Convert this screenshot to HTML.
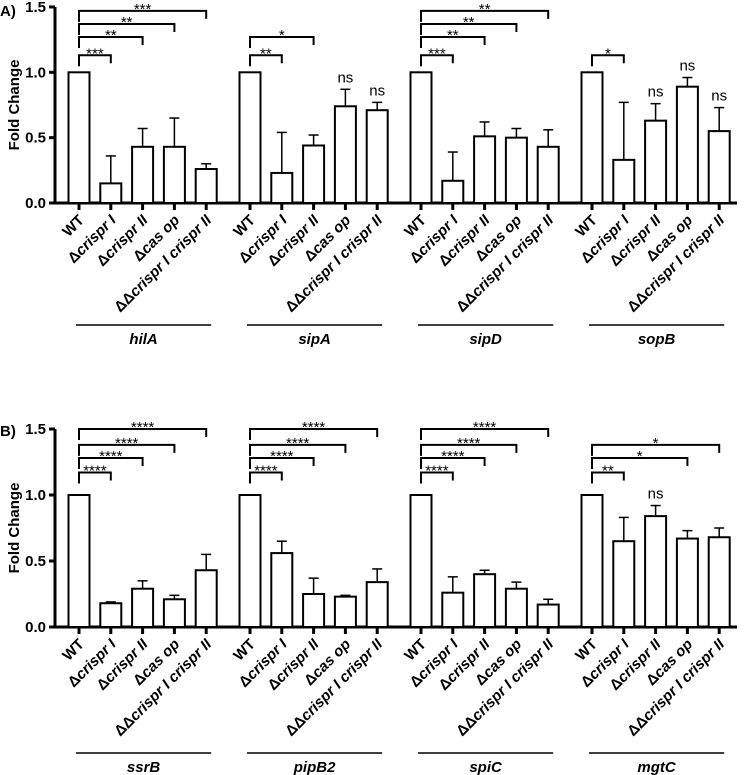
<!DOCTYPE html>
<html><head><meta charset="utf-8"><style>
body{margin:0;background:#fff}
svg{display:block;font-family:"Liberation Sans",Arial,sans-serif}
</style></head><body>
<svg id="chart" width="744" height="775" viewBox="0 0 744 775" xmlns="http://www.w3.org/2000/svg"></svg>
<script>
const strains = ["WT","Δcrispr I","Δcrispr II","Δcas op","ΔΔcrispr I crispr II"];
const genesA = ["hilA","sipA","sipD","sopB"];
const genesB = ["ssrB","pipB2","spiC","mgtC"];
const valuesA = [[1,0.15,0.43,0.43,0.26],[1,0.23,0.44,0.74,0.71],[1,0.17,0.51,0.50,0.43],[1,0.33,0.63,0.89,0.55]];
const errTopA = [[1,0.36,0.57,0.65,0.30],[1,0.54,0.52,0.87,0.77],[1,0.39,0.62,0.57,0.56],[1,0.77,0.76,0.96,0.73]];
const valuesB = [[1,0.18,0.29,0.21,0.43],[1,0.56,0.25,0.23,0.34],[1,0.26,0.40,0.29,0.17],[1,0.65,0.84,0.67,0.68]];
const errTopB = [[1,0.19,0.35,0.24,0.55],[1,0.65,0.37,0.24,0.44],[1,0.38,0.43,0.34,0.21],[1,0.83,0.92,0.73,0.75]];
const sigA = [["***","**","**","***"],["**","*","ns","ns"],["***","**","**","**"],["*","ns","ns","ns"]];
const sigB = [["****","****","****","****"],["****","****","****","****"],["****","****","****","****"],["**","ns","*","*"]];
const yTicks = [0,0.5,1.0,1.5];
const yTickLabels = ["0.0","0.5","1.0","1.5"];

const NS="http://www.w3.org/2000/svg";
const svg=document.getElementById('chart');
function mk(tag,attrs,parent){const e=document.createElementNS(NS,tag);for(const k in attrs)e.setAttribute(k,attrs[k]);(parent||svg).appendChild(e);return e;}

function panel(p){
  const g=mk('g',{});
  
  
  const y=v=>p.y0-v*p.unit;
  const x=(gi,bi)=>79+gi*171+bi*31.8;
  const axX=55;
  const L=mk('text',{x:0,y:p.letterY,'font-size':15,'font-weight':'bold'},g);L.textContent=p.letter;
  
  
  const t=mk('text',{x:0,y:0,'font-size':15,'font-weight':'bold','text-anchor':'middle',transform:`translate(19,${y(0.75)}) rotate(-90)`},g);t.textContent="Fold Change";
  
  
  mk('line',{x1:axX,y1:y(1.5),x2:axX,y2:p.y0+1.5,stroke:'#000','stroke-width':3},g);
  mk('line',{x1:axX-1.5,y1:p.y0,x2:737,y2:p.y0,stroke:'#000','stroke-width':3},g);
  yTicks.forEach((v,i)=>{
    mk('line',{x1:axX-6,y1:y(v),x2:axX,y2:y(v),stroke:'#000','stroke-width':3},g);
    const tl=mk('text',{x:axX-9,y:y(v)+5,'font-size':15,'font-weight':'bold','text-anchor':'end'},g);tl.textContent=yTickLabels[i];
    
    
  });
  p.genes.forEach((gene,gi)=>{
    p.vals[gi].forEach((v,bi)=>{
      const cx=x(gi,bi);
      const et=p.err[gi][bi];
      if(et>v){
        mk('line',{x1:cx,y1:y(v),x2:cx,y2:y(et),stroke:'#000','stroke-width':1.5},g);
        mk('line',{x1:cx-5,y1:y(et),x2:cx+5,y2:y(et),stroke:'#000','stroke-width':1.5},g);
      }
      const r=mk('rect',{x:cx-10.5,y:y(v),width:21,height:p.y0-y(v),fill:'#fff',stroke:'#000','stroke-width':2},g);
      
      
      mk('line',{x1:cx,y1:p.y0,x2:cx,y2:p.y0+7,stroke:'#000','stroke-width':3},g);
      const lb=mk('text',{x:0,y:0,'font-size':15,'font-weight':'bold','text-anchor':'end',transform:`translate(${cx+6},${p.y0+18}) rotate(-45)`},g);
      if(bi===0)lb.textContent=strains[bi];
      else{const parts=strains[bi].match(/^(Δ+)(.*)$/);lb.textContent=parts[1];const ts=mk('tspan',{'font-style':'italic'},lb);ts.textContent=parts[2];}
      
      
    });
    let lvl=0;
    p.sig[gi].forEach((s,k)=>{
      const bi=k+1;
      if(s==="ns"){
        const n=mk('text',{x:x(gi,bi),y:y(p.err[gi][bi])-7,'font-size':15,'text-anchor':'middle'},g);n.textContent="ns";
        
        
        return;
      }
      const by=y(p.levels[lvl++]);
      const x1=x(gi,0),x2=x(gi,bi);
      const b=mk('path',{d:`M${x1},${by+11}V${by}H${x2}V${by+8}`,fill:'none',stroke:'#000','stroke-width':2},g);
      
      
      const st=mk('text',{x:(x1+x2)/2,y:by+3,'font-size':15,'text-anchor':'middle'},g);st.textContent=s;
      
      
    });
    mk('line',{x1:x(gi,0)-3,y1:p.lineY,x2:x(gi,4)+5,y2:p.lineY,stroke:'#000','stroke-width':1.5},g);
    const gl=mk('text',{x:(x(gi,0)+x(gi,4))/2+1,y:p.lineY+19,'font-size':15,'font-weight':'bold','font-style':'italic','text-anchor':'middle'},g);gl.textContent=gene;
    
    
  });
}
panel({name:'panel-a',letter:'A)',letterY:16,y0:203,unit:130.7,genes:genesA,vals:valuesA,err:errTopA,sig:sigA,levels:[1.13,1.27,1.37,1.47],lineY:325});
panel({name:'panel-b',letter:'B)',letterY:436,y0:627,unit:132,genes:genesB,vals:valuesB,err:errTopB,sig:sigB,levels:[1.17,1.28,1.38,1.50],lineY:753});
</script>
</body></html>
